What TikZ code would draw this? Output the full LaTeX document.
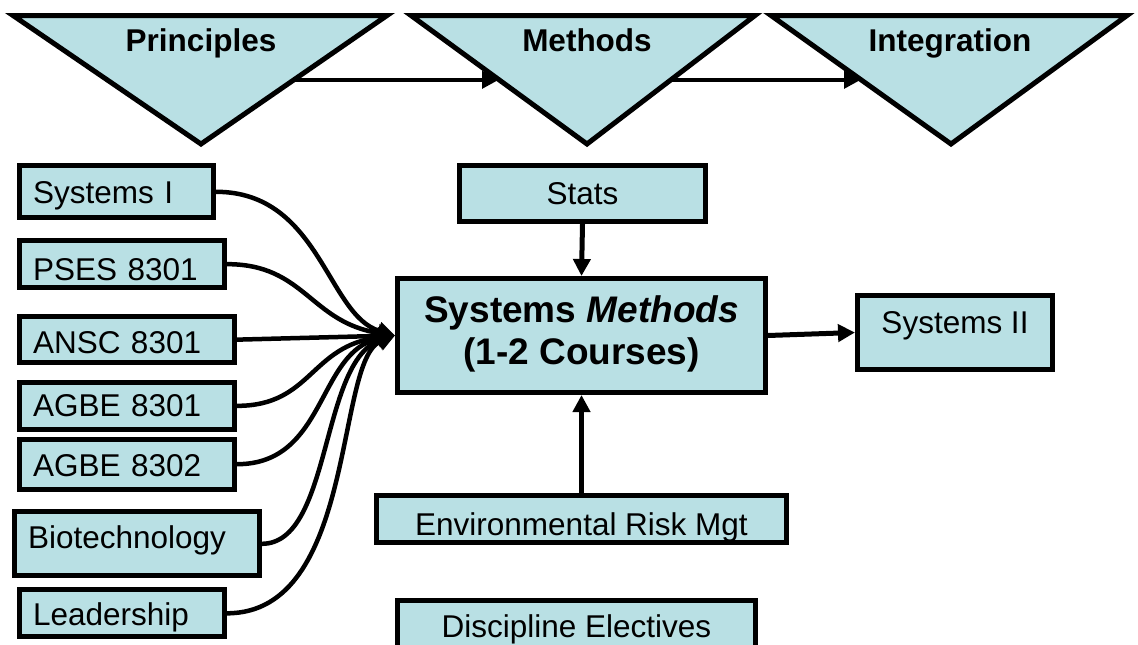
\documentclass[tikz,border=0pt]{standalone}
\usepackage{fontspec}
\setmainfont{Liberation Sans}
\usetikzlibrary{arrows.meta,calc}
\definecolor{boxfill}{RGB}{185,224,228}

\begin{document}
\begin{tikzpicture}[x=1pt,y=-1pt,>={Triangle[length=17pt,width=17pt]}]
        \tikzset{
            course/.style= {
                draw,
                shape=rectangle,
                fill=boxfill,
                line width=5pt,
                inner xsep=13.5pt,
                inner ysep=0pt,
                text height=25pt,
                text depth=3.3pt,
                anchor=north west,
                font=\fontsize{31.5}{36}\selectfont
            },
            leftcourse/.style= {
                course,
                align=left,
                text width=#1
            },
            phase/.style= {
                draw,
                fill=boxfill,
                line width=5pt
            },
            phasetext/.style= {
                inner sep=0pt,
                text height=25pt,
                text depth=3.3pt,
                font=\fontsize{31.5}{36}\selectfont\bfseries
            },
            link/.style= {->, line width=5pt},
            feed/.style= {->, line width=4.5pt}
        }
        \useasboundingbox (0,0) rectangle (1138,645);
        \clip (0,0) rectangle (1138,645);
%% phases
        \coordinate (prinL) at (13,15.5);
        \coordinate (prinR) at (387,15.5);
        \coordinate (prinB) at (201,144);
        \coordinate (methL) at (411,15.5);
        \coordinate (methR) at (755,15.5);
        \coordinate (methB) at (587,144);
        \coordinate (intgL) at (771,15.5);
        \coordinate (intgR) at (1127,15.5);
        \coordinate (intgB) at (951,144);
        \filldraw[phase] (prinL) -- (prinR) -- (prinB) -- cycle;
        \filldraw[phase] (methL) -- (methR) -- (methB) -- cycle;
        \filldraw[phase] (intgL) -- (intgR) -- (intgB) -- cycle;
        \node [phasetext] (prin) at (201,41) {Principles};
        \node [phasetext] (meth_t) at (587,41) {Methods};
        \node [phasetext] (intg) at (950,41) {Integration};
        \coordinate (prinOut) at ($(prinR)!0.5!(prinB)$);
        \coordinate (methIn) at ($(methL)!0.5!(methB)$);
        \coordinate (methOut) at ($(methR)!0.5!(methB)$);
        \coordinate (intgIn) at ($(intgL)!0.5!(intgB)$);
%% courses
        \node [leftcourse=167pt, minimum height=52pt] (sysI) at (17,163.3)
            {\raisebox{-1pt}{Systems I}};
        \node [leftcourse=178pt, minimum height=46.7pt] (pses) at (17,238.3)
            {\raisebox{-5.5pt}{PSES 8301}};
        \node [leftcourse=188pt, minimum height=45.7pt] (ansc) at (17,314.3)
            {\raisebox{-3pt}{ANSC 8301}};
        \node [leftcourse=188pt, minimum height=46.7pt] (agbeA) at (17,380)
            {AGBE 8301};
        \node [leftcourse=188pt, minimum height=50pt] (agbeB) at (17,436.7)
            {\raisebox{-1pt}{AGBE 8302}};
        \node [leftcourse=218pt, minimum height=64pt] (biotech) at (12,509.3)
            {\raisebox{6.3pt}{Biotechnology}};
        \node [leftcourse=178pt, minimum height=47pt] (lead) at (17,587.3)
            {\raisebox{-1.7pt}{Leadership}};
        \node [course, minimum width=246pt, minimum height=55.7pt] (stats) at (457,163.3)
            {Stats};
        \node [course, minimum width=368pt, minimum height=114pt, align=center,
               text height=66pt, text depth=8.3pt,
               font=\fontsize{37}{41.7}\selectfont\bfseries] (meth) at (395,276)
            {Systems \textit{Methods}\\(1-2 Courses)};
        \node [course, minimum width=410pt, minimum height=47.3pt] (env) at (374,492.7)
            {\raisebox{-5.4pt}{Environmental Risk Mgt}};
        \node [course, minimum width=358pt, minimum height=46.7pt] (disc) at (395,598.3)
            {\raisebox{-2pt}{Discipline Electives}};
        \node [course, minimum width=195pt, minimum height=73.4pt] (sysII) at (855,293.3)
            {\raisebox{10pt}{Systems II}};
%% paths
\draw[link, line width=4.5pt] (prinOut) -- (methIn);
\draw[link, line width=4.5pt] (methOut) -- (intgIn);
\draw[link] (stats.south) -- (meth.north);
\draw[link] (env.north) -- (meth.south);
\draw[link] (meth.east) -- (sysII.west);
\draw[feed] (sysI.east) .. controls +(104,0) and +(-68,-20) .. (meth.west);
\draw[feed] (pses.east) .. controls +(78,0) and +(-85,-13) .. (meth.west);
\draw[feed] (ansc.east) -- (meth.west);
\draw[feed] (agbeA.east) .. controls +(75,0) and +(-85,10) .. (meth.west);
\draw[feed] (agbeB.east) .. controls +(90,0) and +(-78,15) .. (meth.west);
\draw[feed] (biotech.east) .. controls +(70,0) and +(-75,25) .. (meth.west);
\draw[feed] (lead.east) .. controls +(130,0) and +(-60,25) .. (meth.west);
\end{tikzpicture}
\end{document}
